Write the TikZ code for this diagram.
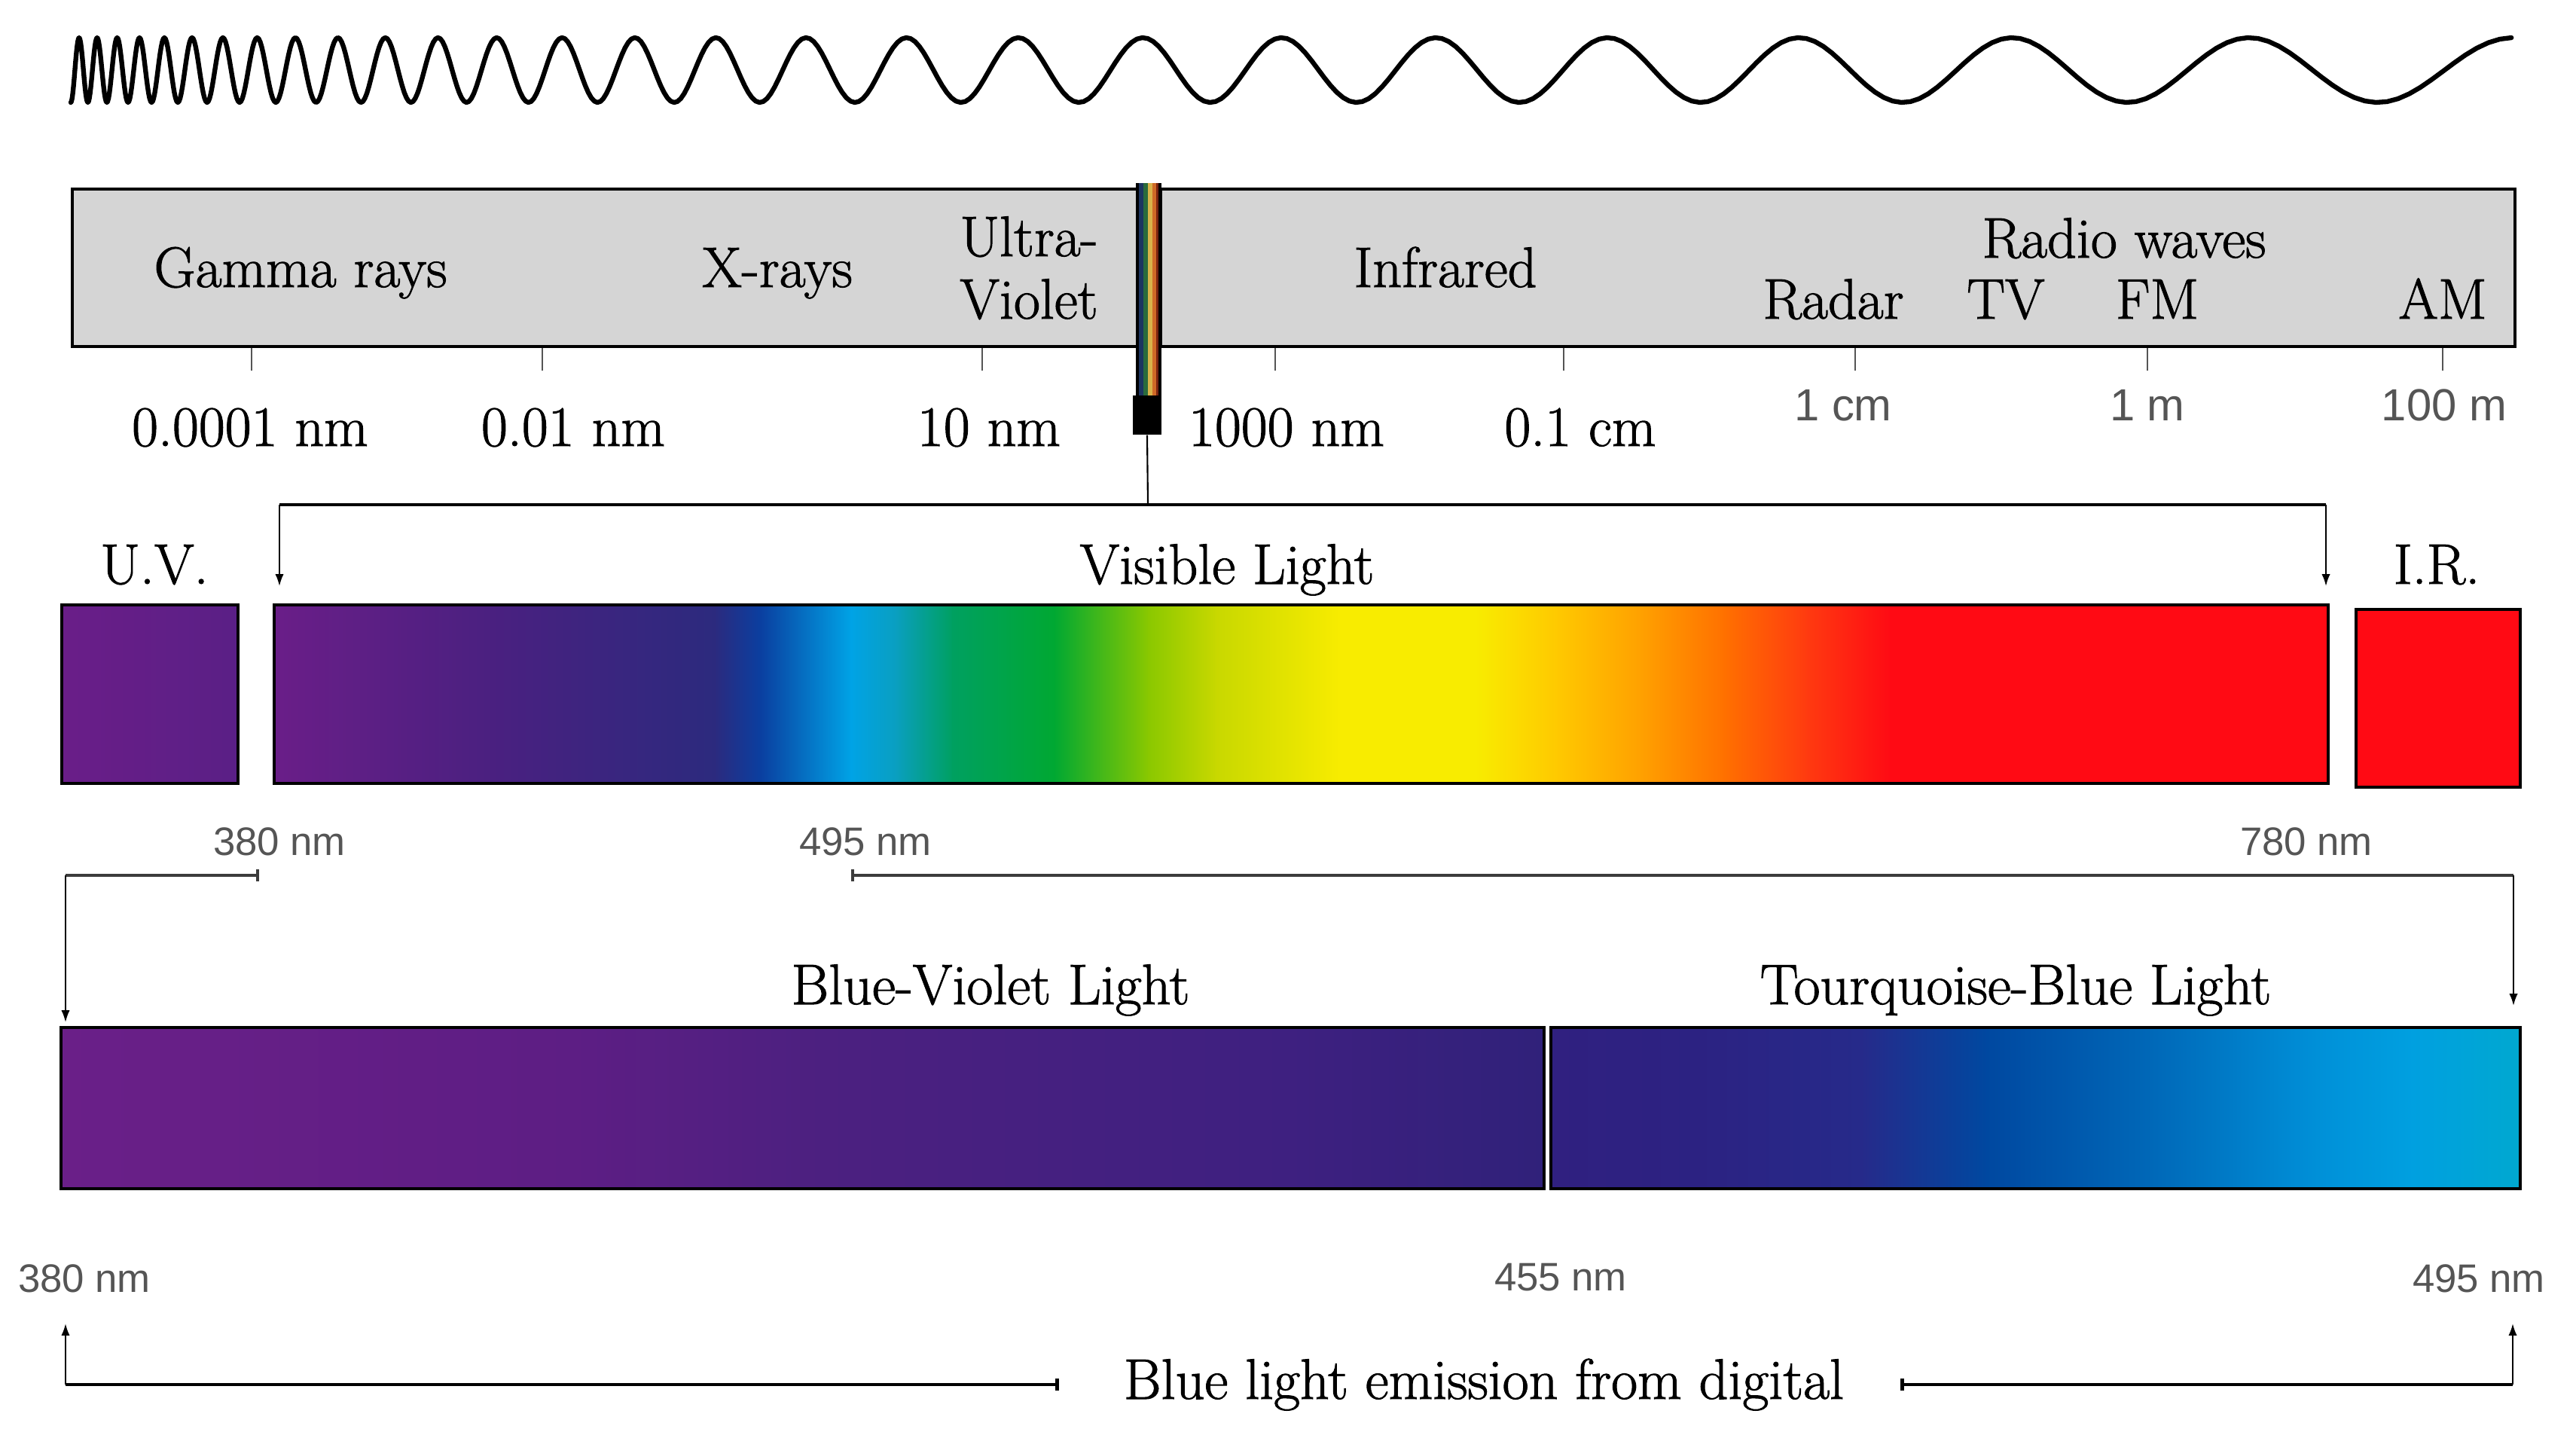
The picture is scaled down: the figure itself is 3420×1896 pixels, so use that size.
\documentclass[tikz,border=0pt]{standalone}
\usepackage{fontspec}
\newfontfamily\sansf{Liberation Sans}
\newfontfamily\serf{Latin Modern Roman}[FakeBold=1.3]
\usetikzlibrary{arrows.meta,fit}
\definecolor{boxgray}{HTML}{D5D5D5}
\definecolor{lblgray}{HTML}{555555}
\definecolor{brgray}{HTML}{3C3C3C}
\definecolor{sNavy}{HTML}{1D3560}
\definecolor{sGreen}{HTML}{2A6B3C}
\definecolor{sTan}{HTML}{D9B34A}
\definecolor{sOrange}{HTML}{CF6A27}
\definecolor{sRed}{HTML}{7A2410}
\definecolor{irred}{HTML}{FF0A14}
\definecolor{v1}{HTML}{6A1E88}
\definecolor{v2}{HTML}{4A2080}
\definecolor{v3}{HTML}{2C2A7E}
\definecolor{v4}{HTML}{0A3FA0}
\definecolor{v5}{HTML}{00A3E6}
\definecolor{v6}{HTML}{0A9FC0}
\definecolor{v7}{HTML}{00A060}
\definecolor{v8}{HTML}{00A832}
\definecolor{v9}{HTML}{8AC800}
\definecolor{v10}{HTML}{C8D800}
\definecolor{v11}{HTML}{F8EC00}
\definecolor{v12}{HTML}{FFC800}
\definecolor{v13}{HTML}{FFA000}
\definecolor{v14}{HTML}{FF7000}
\definecolor{v15}{HTML}{FF3A10}
\definecolor{v16}{HTML}{FF0A14}
\definecolor{bl1}{HTML}{6A1F88}
\definecolor{bl2}{HTML}{5D1E84}
\definecolor{bl3}{HTML}{4C2080}
\definecolor{bl4}{HTML}{3E2080}
\definecolor{bl5}{HTML}{30217A}
\definecolor{br1}{HTML}{302080}
\definecolor{br2}{HTML}{2C2282}
\definecolor{br3}{HTML}{262A8A}
\definecolor{br4}{HTML}{0048A0}
\definecolor{br5}{HTML}{0068B8}
\definecolor{br6}{HTML}{0090D8}
\definecolor{br7}{HTML}{00A0E0}
\definecolor{br8}{HTML}{00A8D0}
\definecolor{uv2}{HTML}{5A1F86}
\begin{document}
\begin{tikzpicture}[x=0.01cm,y=-0.01cm,
  serif/.style={font=\serf\fontsize{21.6}{25}\selectfont, inner sep=0, anchor=base},
  sanslg/.style={font=\sansf\fontsize{17}{20}\selectfont, text=lblgray, inner sep=0, anchor=base},
  sanssm/.style={font=\sansf\fontsize{15}{18}\selectfont, text=lblgray, inner sep=0, anchor=base},
  graybox/.style={draw=black, fill=boxgray, line width=1.4pt, inner sep=0},
  barframe/.style={draw=black, line width=1.3pt, inner sep=0},
  tickline/.style={draw=lblgray, line width=0.6pt},
  hthick/.style={line width=1pt},
  vthin/.style={line width=0.6pt, -{Latex[length=4.5pt,width=3.2pt]}},
  barend/.style={{Bar[width=4.5pt]}-}
]
\useasboundingbox (0,0) rectangle (3420,1896);

% wave
\draw[line width=1.8pt, line cap=round, line join=round]
  plot[variable=\t, domain=-0.5:26, samples=637]
  ({94+200*(exp((\t+0.5)/9.3123)-1)}, {93-43*cos(360*\t)});

% spectrum boxes
\node[graybox, fit={(96,251) (1510,460)}] (lbox) {};
\node[graybox, fit={(1541,251) (3339,460)}] (rbox) {};

% colored strip
\fill[sNavy] (1511,243) rectangle (1518,525);
\fill[sGreen] (1518,243) rectangle (1524,525);
\fill[sTan] (1524,243) rectangle (1530,525);
\fill[sOrange] (1530,243) rectangle (1535,525);
\fill[sRed] (1535,243) rectangle (1539,525);
\draw[line width=1.1pt] (1510,243) -- (1510,525);
\draw[line width=1.1pt] (1540,243) -- (1540,525);
\node[fill=black, inner sep=0, fit={(1504,525) (1542,577)}] (blk) {};

% labels in boxes
\node[serif] (gamma) at (399,381) {Gamma rays};
\node[serif] (xray) at (1032,381) {X-rays};
\node[serif] (ultra) at (1366,340) {Ultra-};
\node[serif] (violet) at (1366,423) {Violet};
\node[serif] (infra) at (1919,381) {Infrared};
\node[serif] (radio) at (2820,342) {Radio waves};
\node[serif] (radar) at (2434,423) {Radar};
\node[serif] (tv) at (2663,423) {TV};
\node[serif] (fm) at (2864,423) {FM};
\node[serif] (am) at (3243,423) {AM};

% ticks
\foreach \x in {334,720,1304,1693,2076,2463,2851,3243}
  \draw[tickline] (\x,462) -- (\x,492);

% scale labels
\node[serif] (w1) at (332,592) {0.0001 nm};
\node[serif] (w2) at (761,592) {0.01 nm};
\node[serif] (w3) at (1313,592) {10 nm};
\node[serif] (w4) at (1708,592) {1000 nm};
\node[serif] (w5) at (2098,592) {0.1 cm};
\node[sanslg] (w6) at (2447,558) {1 cm};
\node[sanslg] (w7) at (2851,558) {1 m};
\node[sanslg] (w8) at (3245,558) {100 m};

% visible bracket
\coordinate (vb) at (1524,670);
\coordinate (vbL) at (371,670);
\coordinate (vbR) at (3088,670);
\coordinate (vbLt) at (371,778);
\coordinate (vbRt) at (3088,778);
\draw[line width=0.6pt] (blk.south) -- (vb);
\draw[hthick] (vbL) -- (vbR);
\draw[vthin] (vbL) -- (vbLt);
\draw[vthin] (vbR) -- (vbRt);

\node[serif] (uvl) at (205,775) {U.V.};
\node[serif] (visl) at (1629,775) {Visible Light};
\node[serif] (irl) at (3235,775) {I.R.};

% UV bar
\shade[left color=v1, right color=uv2] (82,803) rectangle (316,1040);
\node[barframe, fit={(82,803) (316,1040)}] (uvbar) {};
% visible bar
\foreach \xa/\ca/\xb/\cb in {364/v1/654/v2, 654/v2/949/v3, 949/v3/1010/v4, 1010/v4/1130/v5,
  1130/v5/1190/v6, 1190/v6/1265/v7, 1265/v7/1400/v8, 1400/v8/1525/v9, 1525/v9/1615/v10,
  1615/v10/1780/v11, 1780/v11/1960/v11, 1960/v11/2070/v12, 2070/v12/2180/v13, 2180/v13/2290/v14,
  2290/v14/2400/v15, 2400/v15/2510/v16, 2510/v16/3091/v16}
  \shade[left color=\ca, right color=\cb] (\xa-0.8,803) rectangle (\xb+0.8,1040);
\node[barframe, fit={(364,803) (3091,1040)}] (visbar) {};
% IR bar
\fill[irred] (3128,809) rectangle (3346,1045);
\node[barframe, fit={(3128,809) (3346,1045)}] (irbar) {};

% wavelength labels
\node[sanssm] (l380) at (371,1135) {380 nm};
\node[sanssm] (l495) at (1149,1135) {495 nm};
\node[sanssm] (l780) at (3062,1135) {780 nm};

% brackets to blue bars
\coordinate (b1a) at (344,1162);
\coordinate (b1b) at (87,1162);
\coordinate (b1c) at (87,1357);
\coordinate (b2a) at (1130,1162);
\coordinate (b2b) at (3337,1162);
\coordinate (b2c) at (3337,1335);
\draw[hthick, brgray, barend] (b1a) -- (b1b);
\draw[vthin] (b1b) -- (b1c);
\draw[hthick, brgray, barend] (b2a) -- (b2b);
\draw[vthin] (b2b) -- (b2c);

\node[serif] (bvl) at (1315,1333) {Blue-Violet Light};
\node[serif] (tbl) at (2676,1333) {Tourquoise-Blue Light};

% blue-violet bar
\foreach \xa/\ca/\xb/\cb in {81/bl1/763/bl2, 763/bl2/1090/bl3, 1090/bl3/1710/bl4, 1710/bl4/2050/bl5}
  \shade[left color=\ca, right color=\cb] (\xa-0.8,1364) rectangle (\xb+0.8,1578);
\node[barframe, fit={(81,1364) (2050,1578)}] (bvbar) {};
% turquoise-blue bar
\foreach \xa/\ca/\xb/\cb in {2059/br1/2252/br2, 2252/br2/2471/br3, 2471/br3/2638/br4, 2638/br4/2857/br5,
  2857/br5/3076/br6, 3076/br6/3204/br7, 3204/br7/3346/br8}
  \shade[left color=\ca, right color=\cb] (\xa-0.8,1364) rectangle (\xb+0.8,1578);
\node[barframe, fit={(2059,1364) (3346,1578)}] (tbbar) {};

% bottom labels
\node[sanssm] (m380) at (112,1715) {380 nm};
\node[sanssm] (m455) at (2072,1713) {455 nm};
\node[sanssm] (m495) at (3291,1715) {495 nm};

\node[serif] (emis) at (1970,1857) {Blue light emission from digital};

\coordinate (c1a) at (1406,1838);
\coordinate (c1b) at (87,1838);
\coordinate (c1c) at (87,1757);
\coordinate (c2a) at (2523,1838);
\coordinate (c2b) at (3336,1838);
\coordinate (c2c) at (3336,1757);
\draw[line width=1.3pt, barend] (c1a) -- (c1b);
\draw[vthin] (c1b) -- (c1c);
\draw[line width=1.3pt, barend] (c2a) -- (c2b);
\draw[vthin] (c2b) -- (c2c);
\end{tikzpicture}
\end{document}
